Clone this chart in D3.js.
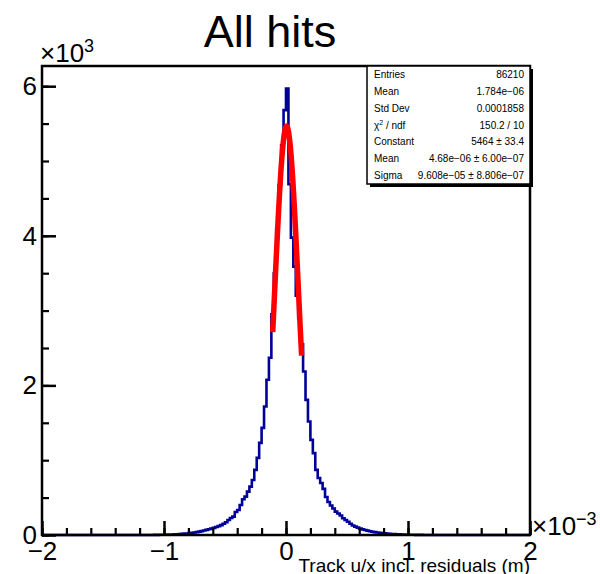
<!DOCTYPE html>
<html><head><meta charset="utf-8">
<script src="https://cdn.jsdelivr.net/npm/d3@7"></script>
<style>
html,body{margin:0;padding:0;background:#fff;}
svg{display:block;font-family:"Liberation Sans",Arial,Helvetica,sans-serif;}
</style></head>
<body>
<svg id="c" width="600" height="574"></svg>
<script>
// ---- data (x in units of 1e-3 m, counts in units of 1) ----
const xRange = [-2, 2];
const counts = [
0,0,0,0,0,0,0,0,0,0, 0,0,0,0,0,0,0,0,0,0, 0,0,0,0,0,0,0,0,0,0, 0,0,0,0,0,0,0,0,0,0, 0,0,0,
1,1,1,2,2,3,3,4,5,6,
7,8,10,12,15,18,21,25,29,34,
39,45,52,60,68,76,85,95,106,118,
132,150,170,200,228,245,308,335,402,478,
513,580,647,736,870,1031,1232,1432,1718,2075,
2370,2950,3500,4100,4680,5210,5680,5970,4690,3976,
3588,3200,2900,2550,2186,1807,1517,1272,1094,870,
763,696,616,509,442,395,355,312,288,261,
224,200,178,150,128,112,98,85,75,66,
58,50,44,38,33,29,25,22,19,16,
14,12,10,8,7,6,5,4,3,3,
2,2,2,1,1,1,1,
0,0,0,0,0,0,0,0,0,0, 0,0,0,0,0,0,0,0,0,0, 0,0,0,0,0,0,0,0,0,0, 0,0,0,0,0,0,0,0,0,0
];
// Gaussian fit parameters (Constant, Mean [1e-3 m], Sigma [1e-3 m]) and fit range
const fitParams = [5464, 0.00468, 0.09608];
const fitRange = [-0.109, 0.128];
const xTicks = [-2, -1, 0, 1, 2];
const yTicks = [0, 2000, 4000, 6000];
const yMax = 6270;
const statsLabels = ["Entries", "Mean", "Std Dev", "χ2 / ndf", "Constant", "Mean", "Sigma"];
const statsValues = ["86210", "1.784e\u221206", "0.0001858", "150.2 / 10", "5464 \u00b1 33.4",
  "4.68e\u221206 \u00b1 6.00e\u221207", "9.608e\u221205 \u00b1 8.806e\u221207"];
const title = "All hits";
const xTitle = "Track u/x incl. residuals (m)";

// ---- drawing ----
const svg = d3.select("#c");
const L = 42, R = 530, T = 66, B = 535;
const x = d3.scaleLinear().domain(xRange).range([L, R]);
const y = d3.scaleLinear().domain([0, yMax]).range([B, T]);
const nb = counts.length;
const bw = (xRange[1] - xRange[0]) / nb;

// histogram step outline
const pts = [];
counts.forEach((c, i) => {
  const lo = xRange[0] + i * bw, hi = lo + bw;
  pts.push([lo, c]); pts.push([hi, c]);
});
svg.append("path")
  .attr("d", d3.line().x(d => x(d[0])).y(d => y(d[1]))(pts))
  .attr("fill", "none").attr("stroke", "#000099").attr("stroke-width", 2.6)
  .attr("stroke-linejoin", "miter");

// fit curve
const [A, mu, sg] = fitParams;
const fx = d3.range(0, 101).map(k => fitRange[0] + (fitRange[1] - fitRange[0]) * k / 100);
svg.append("path")
  .attr("d", d3.line().x(d => x(d)).y(d => y(A * Math.exp(-0.5 * ((d - mu) / sg) ** 2)))(fx))
  .attr("fill", "none").attr("stroke", "#ff0000").attr("stroke-width", 5.5);

// frame
svg.append("rect").attr("x", L).attr("y", T).attr("width", R - L).attr("height", B - T)
  .attr("fill", "none").attr("stroke", "#000").attr("stroke-width", 2.5);

// axes
const fs = 26;
const xAxis = d3.axisBottom(x).tickValues(xTicks).tickSizeInner(-14).tickSizeOuter(0).tickPadding(7)
  .tickFormat(d => d3.format("d")(d).replace("-", "\u2212"));
const gx = svg.append("g").attr("transform", `translate(0,${B})`).call(xAxis);
gx.select(".domain").remove();
gx.selectAll("line").attr("stroke-width", 2.5);
gx.selectAll("text").attr("font-size", fs).attr("font-family", "Liberation Sans, Arial, sans-serif").attr("fill", "#000");

const xMinor = d3.axisBottom(x).tickValues(d3.range(-2, 2.0001, 0.2).map(v => +v.toFixed(2)))
  .tickSizeInner(-7).tickSizeOuter(0).tickFormat("");
const gxm = svg.append("g").attr("transform", `translate(0,${B})`).call(xMinor);
gxm.select(".domain").remove();
gxm.selectAll("line").attr("stroke-width", 2.2);

const yAxis = d3.axisLeft(y).tickValues(yTicks).tickSizeInner(-14).tickSizeOuter(0).tickPadding(5)
  .tickFormat(d => String(d / 1000));
const gy = svg.append("g").attr("transform", `translate(${L},0)`).call(yAxis);
gy.select(".domain").remove();
gy.selectAll("line").attr("stroke-width", 2.5);
gy.selectAll("text").attr("font-size", fs).attr("font-family", "Liberation Sans, Arial, sans-serif").attr("fill", "#000");

const yMinor = d3.axisLeft(y).tickValues(d3.range(0, yMax, 500)).tickSizeInner(-7).tickSizeOuter(0).tickFormat("");
const gym = svg.append("g").attr("transform", `translate(${L},0)`).call(yMinor);
gym.select(".domain").remove();
gym.selectAll("line").attr("stroke-width", 2.2);

// exponent labels
const ey = svg.append("text").attr("x", 40).attr("y", 62).attr("font-size", fs);
ey.append("tspan").text("\u00d710");
ey.append("tspan").attr("font-size", 18).attr("dy", -10).text("3");
const ex = svg.append("text").attr("x", 532).attr("y", 535).attr("font-size", fs);
ex.append("tspan").text("\u00d710");
ex.append("tspan").attr("font-size", 18).attr("dy", -10).text("\u22123");

// title
svg.append("text").attr("x", 270).attr("y", 47).attr("text-anchor", "middle")
  .attr("font-size", 45).text(title);

// x title
svg.append("text").attr("x", R).attr("y", 572).attr("text-anchor", "end")
  .attr("font-size", 19).text(xTitle);

// stats box
const sx0 = 367, sx1 = R, sy0 = T, sy1 = 184;
svg.append("path").attr("d", `M${sx0 + 3},${sy1 + 1.5} H${sx1 + 1.5} V${sy0 + 3}`)
  .attr("fill", "none").attr("stroke", "#000").attr("stroke-width", 3);
svg.append("rect").attr("x", sx0).attr("y", sy0).attr("width", sx1 - sx0).attr("height", sy1 - sy0)
  .attr("fill", "#fff").attr("stroke", "#000").attr("stroke-width", 1.5);
const rowH = (sy1 - sy0) / statsLabels.length;
statsLabels.forEach((lab, i) => {
  const yy = sy0 + rowH * (i + 0.5) + 3.5;
  const t = svg.append("text").attr("x", sx0 + 7).attr("y", yy).attr("font-size", 10);
  if (lab.startsWith("χ2")) {
    t.append("tspan").text("χ");
    t.append("tspan").attr("font-size", 7).attr("dy", -4).text("2");
    t.append("tspan").attr("dy", 4).text(" / ndf");
  } else t.text(lab);
  svg.append("text").attr("x", sx1 - 6).attr("y", yy).attr("text-anchor", "end")
    .attr("font-size", 10).text(statsValues[i]);
});
</script>
</body></html>
